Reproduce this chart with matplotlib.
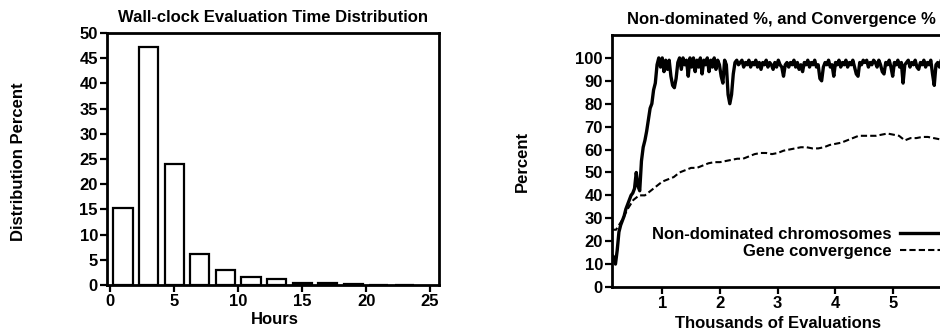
import numpy as np
import matplotlib
matplotlib.use("Agg")
import matplotlib.pyplot as plt

plt.rcParams['font.family'] = ['Liberation Sans', 'DejaVu Sans']
plt.rcParams['font.weight'] = 'bold'

# ---- Left chart data ----
hours_centers = [1, 3, 5, 7, 9, 11, 13, 15, 17, 19, 21, 23]
dist_percent = [15.2, 47.2, 24.0, 6.2, 3.0, 1.6, 1.1, 0.4, 0.3, 0.15, 0.08, 0.05]
left_xticks = [0, 5, 10, 15, 20, 25]
left_yticks = [0, 5, 10, 15, 20, 25, 30, 35, 40, 45, 50]

# ---- Right chart data ----
nd_start, nd_step = 0.13, 0.03
nd_y = [14, 13, 10, 16, 24, 27, 29, 31, 34, 36, 38, 40, 41, 43, 50, 44, 42, 55, 61, 64,
        68, 73, 78, 80, 86, 89, 97, 100,
        96, 100, 94, 99, 95, 99, 92, 88, 87, 91, 98, 100, 95, 100, 97, 99, 92, 100, 96, 100,
        94, 99, 96, 100, 93, 99, 97, 100, 94, 99, 96, 100, 95, 99, 97, 92, 89, 99, 97, 84,
        80, 84, 93, 98,
        99, 97, 98, 99, 96, 98, 97, 99, 96, 98,
        97, 99, 96, 98, 95, 98, 97, 99, 96, 98,
        97, 95, 98, 96, 99, 97, 96, 92, 97, 98,
        96, 98, 97, 99, 96, 98, 95, 97, 94, 98,
        97, 99, 96, 98, 97, 99, 96, 97, 91, 90,
        96, 98, 97, 99, 96, 97, 92, 98, 97, 99,
        96, 98, 97, 99, 96, 98, 97, 99, 96, 93,
        92, 98, 97, 99, 98, 99, 96, 98, 97, 99,
        98, 96, 99, 97, 94, 93, 98, 97, 99, 96,
        92, 98, 97, 99, 96, 98, 89, 97, 98, 99,
        96, 98, 97, 99, 96, 95, 98, 97, 99, 96,
        98, 97, 99, 93, 88, 97, 98, 96, 99, 97]
nd_x = nd_start + nd_step * np.arange(len(nd_y))

gc_x = [0.13, 0.2, 0.3, 0.4, 0.5, 0.6, 0.7, 0.8, 0.9, 1.0, 1.1, 1.2, 1.3, 1.4, 1.5, 1.6,
        1.7, 1.8, 1.9, 2.0, 2.1, 2.2, 2.3, 2.4, 2.5, 2.6, 2.7, 2.8, 2.9, 3.0, 3.1, 3.2,
        3.3, 3.4, 3.5, 3.6, 3.7, 3.8, 3.9, 4.0, 4.1, 4.2, 4.3, 4.4, 4.5, 4.6, 4.7, 4.8,
        4.9, 5.0, 5.1, 5.2, 5.3, 5.4, 5.5, 5.6, 5.7, 5.8, 5.86]
gc_y = [25, 25, 29, 34, 38, 40, 40, 42, 44, 46, 47, 48, 50, 51, 52, 52, 53, 54, 54.5, 54.5,
        55, 55.5, 56, 56, 57, 58, 58.5, 58.5, 58, 58.5, 59.5, 60, 60.5, 61, 61, 60.5, 60.5,
        61, 62, 62.5, 63, 64, 65, 66, 66, 66, 66, 66.5, 67, 66.5, 66, 64, 65, 65, 65.5,
        65.5, 65, 64.5, 64.5]
right_xticks = [1, 2, 3, 4, 5]
right_yticks = [0, 10, 20, 30, 40, 50, 60, 70, 80, 90, 100]

W, H = 940, 334
FS = 12
fig = plt.figure(figsize=(W / 100, H / 100), dpi=100)

def style_axes(ax):
    for s in ax.spines.values():
        s.set_linewidth(2.0)
    ax.tick_params(direction='out', length=5, width=1.6, labelsize=FS, pad=1.5)
    for lab in ax.get_xticklabels() + ax.get_yticklabels():
        lab.set_fontweight('bold')

# Left axes
axL = fig.add_axes([107 / W, 1 - 285 / H, (439 - 107) / W, (285 - 33) / H])
axL.bar(hours_centers, dist_percent, width=1.5, color='white', edgecolor='black', linewidth=1.6)
axL.set_xlim(-0.25, 25.7)
axL.set_ylim(0, 50)
axL.set_xticks(left_xticks)
axL.set_yticks(left_yticks)
style_axes(axL)
axL.set_title('Wall-clock Evaluation Time Distribution', fontsize=FS, fontweight='bold', pad=8)
axL.set_xlabel('Hours', fontsize=FS, fontweight='bold')
axL.xaxis.set_label_coords(0.506, -0.108)
axL.set_ylabel('Distribution Percent', fontsize=FS, fontweight='bold')
axL.yaxis.set_label_coords(-0.268, 0.49)
axL.yaxis.label.set_va('center')

# Right axes
axR = fig.add_axes([612 / W, 1 - 287 / H, (951 - 612) / W, (287 - 35) / H])
l1, = axR.plot(nd_x, nd_y, color='black', linewidth=2.4, label='Non-dominated chromosomes')
l2, = axR.plot(gc_x, gc_y, color='black', linewidth=1.5, dashes=(3, 1.5), label='Gene convergence')
axR.set_xlim(0.13, 6.0)
axR.set_ylim(0, 110)
axR.set_xticks(right_xticks)
axR.set_yticks(right_yticks)
style_axes(axR)
axR.set_title('Non-dominated %, and Convergence %', fontsize=FS, fontweight='bold', pad=8)
axR.set_xlabel('Thousands of Evaluations', fontsize=FS, fontweight='bold')
axR.xaxis.set_label_coords(0.49, -0.116)
axR.set_ylabel('Percent', fontsize=FS, fontweight='bold')
axR.yaxis.set_label_coords(-0.265, 0.5)
axR.yaxis.label.set_va('center')
leg = fig.legend(handles=[l1, l2], loc='center right', bbox_to_anchor=(940 / W, 1 - 243 / H),
                 frameon=False, markerfirst=False, fontsize=FS, handlelength=2.4,
                 handletextpad=0.5, labelspacing=0.1, borderpad=0, borderaxespad=0)
for t in leg.get_texts():
    t.set_fontweight('bold')

fig.savefig('out.png', dpi=100)
